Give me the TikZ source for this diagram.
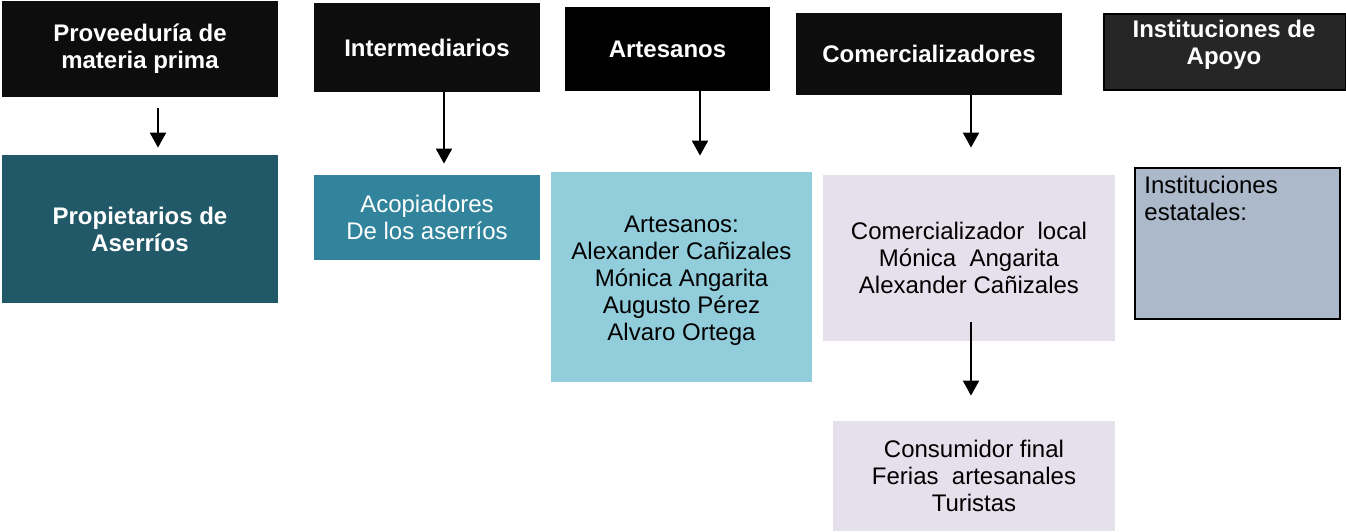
\documentclass[tikz,border=0pt]{standalone}
\usepackage{fontspec}
\setmainfont{Liberation Sans}
\usetikzlibrary{arrows.meta}
\definecolor{hdrblack}{HTML}{0D0D0D}
\definecolor{hdrgray}{HTML}{262626}
\definecolor{tealdark}{HTML}{215968}
\definecolor{tealmid}{HTML}{31849B}
\definecolor{bluelight}{HTML}{92CDDC}
\definecolor{lavender}{HTML}{E5E0EC}
\definecolor{steel}{HTML}{ACB9CA}
\tikzstyle{header} = [rectangle, inner sep=0pt, text centered, align=center, fill=hdrblack, text=white, font=\fontsize{12pt}{13.5pt}\selectfont\bfseries]
\tikzstyle{actor} = [rectangle, inner sep=0pt, text centered, align=center, font=\fontsize{12pt}{13.5pt}\selectfont]
\tikzstyle{arrow} = [line width=1pt, -{Triangle[width=8pt,length=7.5pt]}]

\begin{document}
\begin{tikzpicture}[x=0.5pt, y=-0.5pt]
\useasboundingbox (0,0) rectangle (1346,531);

%% NODES

\node (h1) [header, minimum width=138pt, minimum height=48pt] at (140,49) {Proveeduría de\\materia prima};
\node (h2) [header, minimum width=113pt, minimum height=44.5pt] at (427,47.5) {Intermediarios};
\node (h3) [header, fill=black, minimum width=102.5pt, minimum height=42pt] at (667.5,49) {Artesanos};
\node (h4) [header, minimum width=133pt, minimum height=41pt] at (929,54) {Comercializadores};
\node (h5) [header, fill=hdrgray, draw=black, line width=1pt, minimum width=121pt, minimum height=38pt] at (1224.5,52) {};
\node (h5_label) [header, fill=none] at (1224,45) {Instituciones de\\Apoyo};

\node (b1) [actor, fill=tealdark, text=white, font=\fontsize{12pt}{13.5pt}\selectfont\bfseries, minimum width=138pt, minimum height=74pt] at (140,229) {Propietarios de\\Aserríos};
\node (b2) [actor, fill=tealmid, text=white, minimum width=113pt, minimum height=42.5pt] at (427,217.5) {Acopiadores\\De los aserríos};
\node (b3) [actor, fill=bluelight, minimum width=130.5pt, minimum height=105pt] at (681.5,277) {};
\node (b3_label) [actor] at (681.5,281) {Artesanos:\\Alexander Cañizales\\Mónica Angarita\\Augusto Pérez\\Alvaro Ortega};
\node (b4) [actor, fill=lavender, minimum width=146pt, minimum height=83pt] at (969,258) {Comercializador\ \ local\\Mónica\ \ Angarita\\Alexander Cañizales};
\node (b5) [actor, fill=lavender, minimum width=141pt, minimum height=55pt] at (974,476) {Consumidor final\\Ferias\ \ artesanales\\Turistas};
\node (b6) [actor, fill=steel, draw=black, line width=1pt, minimum width=102.5pt, minimum height=75.5pt] at (1237.5,243.5) {};
\node (b6_label) [actor, align=left, anchor=north west] at (1144,176) {Instituciones\\estatales:};

%% ARROWS

\draw [arrow] ([xshift=9pt,yshift=-5.5pt]h1.south) -- ([xshift=9pt,yshift=3.5pt]b1.north);
\draw [arrow] ([xshift=8.5pt]h2.south) -- ([xshift=8.5pt,yshift=5.5pt]b2.north);
\draw [arrow] ([xshift=16.25pt]h3.south) -- ([xshift=9.25pt,yshift=8pt]b3.north);
\draw [arrow] ([xshift=21pt]h4.south) -- ([xshift=1pt,yshift=13.5pt]b4.north);
\draw [arrow] ([xshift=1pt,yshift=9.5pt]b4.south) -- ([xshift=-1.5pt,yshift=12.5pt]b5.north);

\end{tikzpicture}
\end{document}
